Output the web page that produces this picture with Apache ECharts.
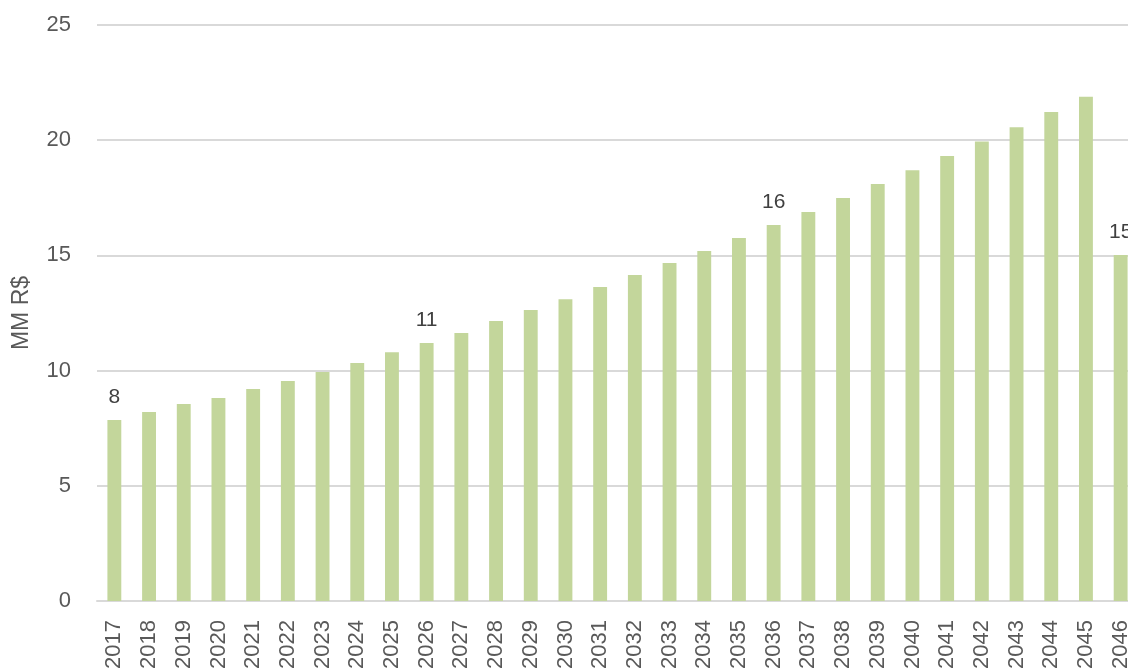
<!DOCTYPE html>
<html>
<head>
<meta charset="utf-8">
<script src="https://cdn.jsdelivr.net/npm/echarts@6/dist/echarts.min.js"></script>
<style>
  html, body { margin: 0; padding: 0; background: #fff; overflow: hidden; }
  #chart { width: 1128px; height: 671px; }
</style>
</head>
<body>
<div id="chart"></div>
<script>
// Annual values, MM R$
const years = ['2017','2018','2019','2020','2021','2022','2023','2024','2025','2026',
               '2027','2028','2029','2030','2031','2032','2033','2034','2035','2036',
               '2037','2038','2039','2040','2041','2042','2043','2044','2045','2046'];
const values = [7.86, 8.2, 8.55, 8.81, 9.2, 9.55, 9.94, 10.33, 10.8, 11.2,
                11.63, 12.15, 12.63, 13.1, 13.63, 14.15, 14.67, 15.19, 15.76, 16.32,
                16.88, 17.49, 18.1, 18.7, 19.31, 19.94, 20.56, 21.22, 21.89, 15.02];
// Years whose bar carries a value label
const labeledYears = ['2017', '2026', '2036', '2046'];
const yTicks = { min: 0, max: 25, interval: 5 };
const yAxisTitle = 'MM R$';

const FONT = 'Liberation Sans';
const TEXT = '#595959';

const chart = echarts.init(document.getElementById('chart'), null, { renderer: 'canvas' });

chart.setOption({
  animation: false,
  textStyle: { fontFamily: FONT },
  grid: { left: 97, right: -10, top: 25, bottom: 70, containLabel: false, outerBoundsMode: 'none' },
  xAxis: {
    type: 'category',
    data: years,
    axisLine: { show: true, lineStyle: { color: '#D9D9D9', width: 2 } },
    axisTick: { show: false },
    axisLabel: { rotate: 90, color: TEXT, fontSize: 22, fontFamily: FONT, margin: 19 },
    splitLine: { show: false }
  },
  yAxis: {
    type: 'value',
    min: yTicks.min, max: yTicks.max, interval: yTicks.interval,
    name: yAxisTitle,
    nameLocation: 'middle',
    nameGap: 64,
    nameTextStyle: { color: TEXT, fontSize: 23, fontFamily: FONT },
    axisLine: { show: false },
    axisTick: { show: false },
    axisLabel: { color: TEXT, fontSize: 22, fontFamily: FONT, margin: 26 },
    splitLine: { lineStyle: { color: '#D9D9D9', width: 2 } }
  },
  series: [{
    type: 'bar',
    data: values.map((v, i) => ({
      value: v,
      label: { show: labeledYears.includes(years[i]) }
    })),
    barWidth: '40%',
    itemStyle: { color: '#C3D69B' },
    label: {
      position: 'top',
      distance: 12,
      color: '#404040',
      fontSize: 21,
      fontFamily: FONT,
      formatter: p => Math.round(p.value)
    }
  }]
});
</script>
</body>
</html>
